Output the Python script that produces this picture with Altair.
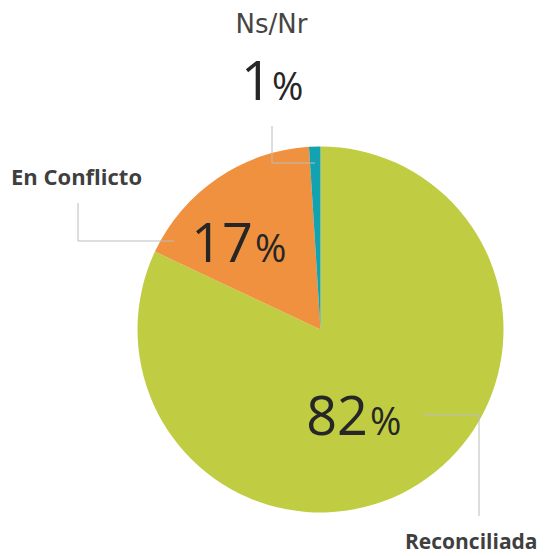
import altair as alt
import pandas as pd

# ---- data ----
categorias = ["Reconciliada", "En Conflicto", "Ns/Nr"]
porcentajes = [82, 17, 1]
colores = ["#c0cd42", "#f0913f", "#13a2b0"]

# ---- layout (page pixels, converted below) ----
OFF = 8
W, H = 534, 548
CX, CY, R = 320.5 - OFF, 329.5 - OFF, 183

name_pos = {  # x, y(baseline), align, weight, size, font
    "Ns/Nr": (271.5, 32.5, "center", "normal", 26, "DejaVu Sans"),
    "En Conflicto": (11, 185, "left", "bold", 22, "Open Sans"),
    "Reconciliada": (405, 549, "left", "bold", 21, "Open Sans"),
}
num_pos = {  # number right anchor, % left anchor, baseline
    "Ns/Nr": (272, 272, 100),
    "En Conflicto": (253, 255, 262),
    "Reconciliada": (368, 370, 435),
}
leaders = {
    "Ns/Nr": [(272, 126), (272, 163), (315, 163)],
    "En Conflicto": [(78, 203), (78, 241), (174, 241)],
    "Reconciliada": [(423, 415), (479, 415), (479, 516)],
}

pie_df = pd.DataFrame({"categoria": categorias, "valor": porcentajes,
                       "orden": list(range(len(categorias)))})

pie = alt.Chart(pie_df).mark_arc(outerRadius=R, x=CX, y=CY).encode(
    theta=alt.Theta("valor:Q", stack=True),
    color=alt.Color("categoria:N", scale=alt.Scale(domain=categorias, range=colores), legend=None),
    order=alt.Order("orden:Q"),
)

seg_rows = []
for c in categorias:
    pts = leaders[c]
    for (x1, y1), (x2, y2) in zip(pts[:-1], pts[1:]):
        seg_rows.append({"x": x1 - OFF, "y": y1 - OFF, "x2": x2 - OFF, "y2": y2 - OFF})
seg_df = pd.DataFrame(seg_rows)
lines = alt.Chart(seg_df).mark_rule(color="#bcbcbc", strokeWidth=1).encode(
    x=alt.X("x:Q", scale=None), y=alt.Y("y:Q", scale=None),
    x2="x2:Q", y2="y2:Q",
)

layers = [pie, lines]

for c in categorias:
    x, y, align, weight, size, font = name_pos[c]
    d = pd.DataFrame({"t": [c], "x": [x - OFF], "y": [y - OFF]})
    layers.append(alt.Chart(d).mark_text(
        align=align, baseline="alphabetic", font=font, fontWeight=weight,
        fontSize=size, color="#3f3f3f" if weight == "bold" else "#454545",
    ).encode(x=alt.X("x:Q", scale=None), y=alt.Y("y:Q", scale=None), text="t:N"))

num_df = pd.DataFrame({
    "n": [str(v) for v in porcentajes],
    "xn": [num_pos[c][0] - OFF for c in categorias],
    "xp": [num_pos[c][1] - OFF for c in categorias],
    "y": [num_pos[c][2] - OFF for c in categorias],
    "p": ["%"] * len(categorias),
})
nums = alt.Chart(num_df).mark_text(
    align="right", baseline="alphabetic", font="Open Sans", fontSize=54, color="#262626",
).encode(x=alt.X("xn:Q", scale=None), y=alt.Y("y:Q", scale=None), text="n:N")
pcts = alt.Chart(num_df).mark_text(
    align="left", baseline="alphabetic", font="Open Sans", fontSize=38, color="#262626",
).encode(x=alt.X("xp:Q", scale=None), y=alt.Y("y:Q", scale=None), text="p:N")
layers += [nums, pcts]

chart = alt.layer(*layers).properties(
    width=W, height=H, padding=0, autosize=alt.AutoSizeParams(type="none"),
).configure_view(stroke=None)

chart.save("out.html", embed_options={"renderer": "svg", "actions": False})
